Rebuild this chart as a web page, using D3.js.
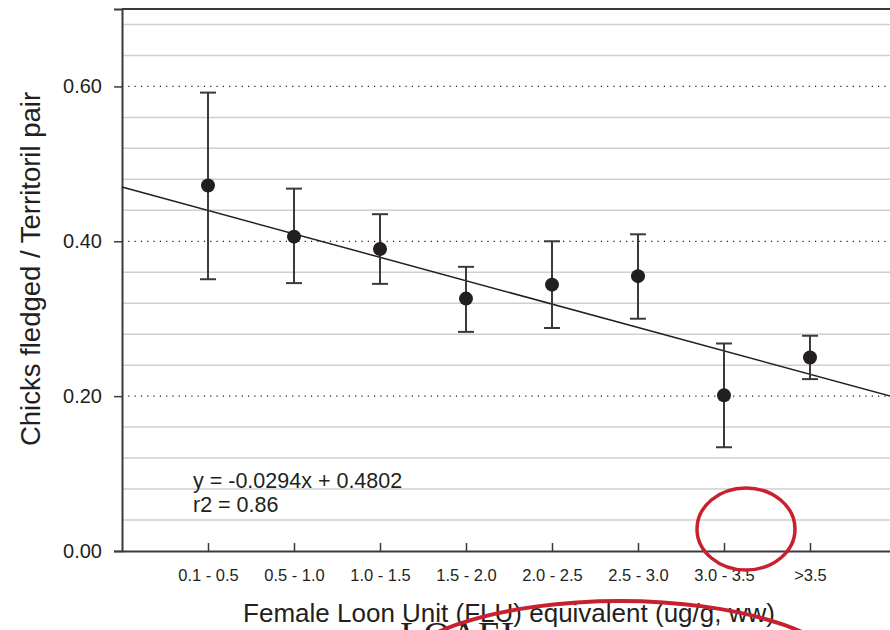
<!DOCTYPE html>
<html>
<head>
<meta charset="utf-8">
<script src="https://cdn.jsdelivr.net/npm/d3@7"></script>
<style>
  html, body { margin: 0; padding: 0; background: #fff; }
  svg { display: block; }
  text { font-family: Arial, "Liberation Sans", Helvetica, sans-serif; fill: #231f20; }
</style>
</head>
<body>
<svg id="chart" width="890" height="630"></svg>
<script>
// ---- data ----
const categories = ["0.1 - 0.5", "0.5 - 1.0", "1.0 - 1.5", "1.5 - 2.0", "2.0 - 2.5", "2.5 - 3.0", "3.0 - 3.5", ">3.5"];
const means = [0.472, 0.406, 0.390, 0.326, 0.344, 0.355, 0.201, 0.250];
const upper = [0.592, 0.468, 0.435, 0.367, 0.400, 0.409, 0.268, 0.278];
const lower = [0.351, 0.346, 0.345, 0.283, 0.288, 0.300, 0.134, 0.222];
const yTicks = [0.00, 0.20, 0.40, 0.60];
const trendX = [0, 9];
const trendY = [0.470, 0.198];
const equationLines = ["y = -0.0294x + 0.4802", "r2 = 0.86"];
const xTitle = "Female Loon Unit (FLU) equivalent (ug/g, ww)";
const yTitle = "Chicks fledged / Territoril pair";
const annotation = "LOAEL";

(function () {
// ---- layout ----
const svg = d3.select("#chart");
const mLeft = 122, mRight = 896, mTop = 9, mBottom = 551;

const x = d3.scaleLinear().domain([0, 9]).range([mLeft, mRight]);
const y = d3.scaleLinear().domain([0, 0.70]).range([mBottom, mTop]);

// minor gridlines
const minor = d3.range(1, 18).map(k => k * 0.04).filter(v => Math.abs(v / 0.2 - Math.round(v / 0.2)) > 1e-6);
svg.append("g").selectAll("line").data(minor).join("line")
  .attr("x1", mLeft).attr("x2", 890)
  .attr("y1", d => y(d)).attr("y2", d => y(d))
  .attr("stroke", "#cfcfcf").attr("stroke-width", 1.5);

// major dotted gridlines
svg.append("g").selectAll("line").data(yTicks.filter(v => v > 0)).join("line")
  .attr("x1", mLeft).attr("x2", 890)
  .attr("y1", d => y(d)).attr("y2", d => y(d))
  .attr("stroke", "#231f20").attr("stroke-width", 1.2)
  .attr("stroke-dasharray", "1.2,5.1");

// top border
svg.append("line").attr("x1", mLeft).attr("x2", 890).attr("y1", y(0.70)).attr("y2", y(0.70))
  .attr("stroke", "#3a3a3a").attr("stroke-width", 2);

// y axis
const yAxis = d3.axisLeft(y).tickValues(yTicks).tickFormat(d3.format(".2f")).tickSize(8).tickPadding(12);
const gy = svg.append("g").attr("transform", `translate(${mLeft},0)`).call(yAxis);
gy.select(".domain").attr("stroke", "#3a3a3a").attr("stroke-width", 2);
gy.selectAll(".tick line").attr("stroke", "#3a3a3a").attr("stroke-width", 1.5);
gy.selectAll(".tick text").style("font-size", "20px").attr("fill", "#231f20");

// x axis
const xAxis = d3.axisBottom(x).tickValues(d3.range(1, categories.length + 1))
  .tickFormat((d) => categories[d - 1]).tickSize(-8).tickSizeOuter(0).tickPadding(18.5);
const gx = svg.append("g").attr("transform", `translate(0,${mBottom})`).call(xAxis);
gx.select(".domain").attr("stroke", "#3a3a3a").attr("stroke-width", 2);
gx.selectAll(".tick line").attr("stroke", "#3a3a3a").attr("stroke-width", 1.5);
gx.selectAll(".tick text").style("font-size", "16.5px").attr("fill", "#231f20");

// trend line
svg.append("line")
  .attr("x1", x(trendX[0])).attr("y1", y(trendY[0]))
  .attr("x2", x(trendX[1])).attr("y2", y(trendY[1]))
  .attr("stroke", "#231f20").attr("stroke-width", 1.5);

// error bars
const pts = categories.map((c, i) => ({ i: i + 1, m: means[i], hi: upper[i], lo: lower[i] }));
const eb = svg.append("g").attr("stroke", "#3a3a3a").attr("stroke-width", 2);
eb.selectAll("line.v").data(pts).join("line").attr("class", "v")
  .attr("x1", d => x(d.i)).attr("x2", d => x(d.i))
  .attr("y1", d => y(d.hi)).attr("y2", d => y(d.lo));
eb.selectAll("line.t").data(pts).join("line").attr("class", "t")
  .attr("x1", d => x(d.i) - 8).attr("x2", d => x(d.i) + 8)
  .attr("y1", d => y(d.hi)).attr("y2", d => y(d.hi));
eb.selectAll("line.b").data(pts).join("line").attr("class", "b")
  .attr("x1", d => x(d.i) - 8).attr("x2", d => x(d.i) + 8)
  .attr("y1", d => y(d.lo)).attr("y2", d => y(d.lo));

// points
svg.append("g").selectAll("circle").data(pts).join("circle")
  .attr("cx", d => x(d.i)).attr("cy", d => y(d.m)).attr("r", 7)
  .attr("fill", "#231f20");

// equation text
svg.append("g").selectAll("text").data(equationLines).join("text")
  .attr("x", 193).attr("y", (d, k) => 488 + k * 24)
  .style("font-size", "21.5px")
  .text(d => d);

// axis titles
svg.append("text").attr("x", 509).attr("y", 622).attr("text-anchor", "middle")
  .style("font-size", "26px").text(xTitle);
svg.append("text").attr("transform", `translate(40,269) rotate(-90)`).attr("text-anchor", "middle")
  .style("font-size", "27.5px").text(yTitle);

// LOAEL annotation
svg.append("text").attr("x", 400).attr("y", 648)
  .style("font-family", "'Liberation Serif', 'Times New Roman', serif")
  .style("font-size", "38px").attr("fill", "#231f20").text(annotation);

// red markup circles
svg.append("ellipse").attr("cx", 746).attr("cy", 529).attr("rx", 49).attr("ry", 41)
  .attr("fill", "none").attr("stroke", "#c8202e").attr("stroke-width", 3.5);
svg.append("ellipse").attr("cx", 620).attr("cy", 681).attr("rx", 230).attr("ry", 80)
  .attr("fill", "none").attr("stroke", "#c8202e").attr("stroke-width", 4);
})();
</script>
</body>
</html>
